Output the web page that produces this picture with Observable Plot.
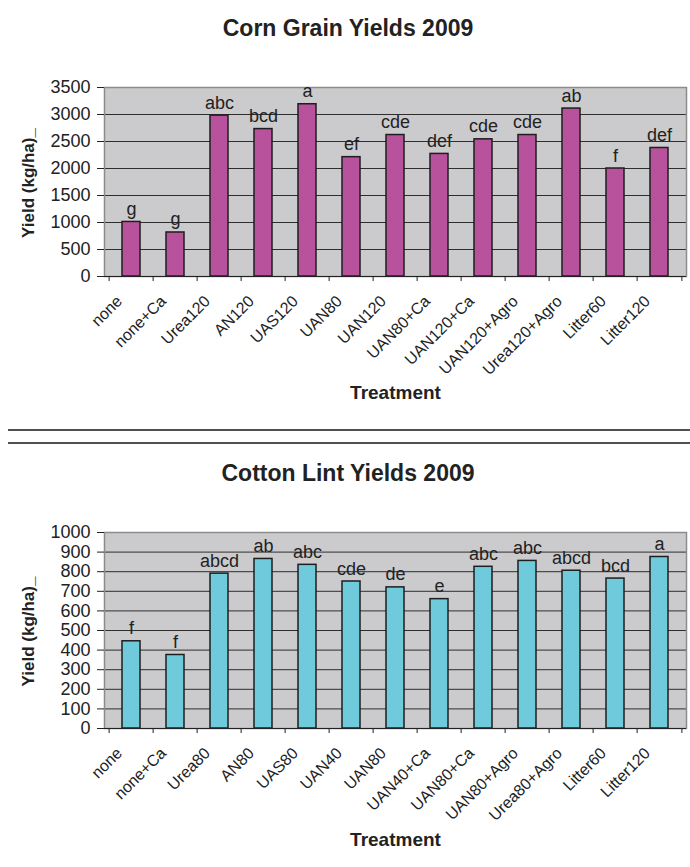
<!DOCTYPE html>
<html>
<head>
<meta charset="utf-8">
<script src="https://cdn.jsdelivr.net/npm/d3@7"></script>
<script src="https://cdn.jsdelivr.net/npm/@observablehq/plot@0.6"></script>
<style>
  html, body { margin: 0; padding: 0; background: #ffffff; }
  #page { position: relative; width: 690px; height: 867px; overflow: hidden;
          font-family: "Liberation Sans", Arial, sans-serif; color: #222; }
  .title { position: absolute; left: 3px; width: 690px; text-align: center;
           font-weight: bold; font-size: 23px; line-height: 23px; white-space: nowrap; }
  .rule { position: absolute; left: 8px; right: 0; background: #505050; }
  .chart { position: absolute; left: 0; }
</style>
</head>
<body>
<div id="page">
  <div class="title" style="top:17px">Corn Grain Yields 2009</div>
  <div class="chart" id="corn" style="top:60px"></div>
  <div class="rule" style="top:429px;height:2px"></div>
  <div class="rule" style="top:442px;height:1.5px"></div>
  <div class="title" style="top:462px">Cotton Lint Yields 2009</div>
  <div class="chart" id="cotton" style="top:500px"></div>
</div>
<script>
// Corn grain yields (kg/ha) by nitrogen treatment, with mean-separation letters
const cornTreatments = ["none", "none+Ca", "Urea120", "AN120", "UAS120", "UAN80", "UAN120",
  "UAN80+Ca", "UAN120+Ca", "UAN120+Agro", "Urea120+Agro", "Litter60", "Litter120"];
const cornYields = [1010, 815, 2980, 2730, 3190, 2210, 2620, 2270, 2540, 2620, 3110, 2000, 2380];
const cornLetters = ["g", "g", "abc", "bcd", "a", "ef", "cde", "def", "cde", "cde", "ab", "f", "def"];
const cornTicks = [0, 500, 1000, 1500, 2000, 2500, 3000, 3500];

// Cotton lint yields (kg/ha) by nitrogen treatment, with mean-separation letters
const cottonTreatments = ["none", "none+Ca", "Urea80", "AN80", "UAS80", "UAN40", "UAN80",
  "UAN40+Ca", "UAN80+Ca", "UAN80+Agro", "Urea80+Agro", "Litter60", "Litter120"];
const cottonYields = [445, 375, 790, 865, 835, 750, 720, 660, 825, 855, 805, 765, 875];
const cottonLetters = ["f", "f", "abcd", "ab", "abc", "cde", "de", "e", "abc", "abc", "abcd", "bcd", "a"];
const cottonTicks = [0, 100, 200, 300, 400, 500, 600, 700, 800, 900, 1000];

function yieldChart({treatments, yields, letters, ticks, fill, height, marginTop, marginBottom, treatmentDy}) {
  const rows = treatments.map((t, i) => ({treatment: t, yield: yields[i], letter: letters[i]}));
  const width = 690, marginLeft = 104, marginRight = 4;
  const step = (width - marginLeft - marginRight) / treatments.length;
  return Plot.plot({
    width, height, marginLeft, marginRight, marginTop, marginBottom,
    style: {fontFamily: "'Liberation Sans', Arial, sans-serif", fontSize: "15px", color: "#222", background: "transparent"},
    x: {type: "band", domain: treatments, paddingInner: 0.6, paddingOuter: 0.3, label: null},
    y: {domain: [0, d3.max(ticks)], label: null},
    marks: [
      Plot.frame({fill: "#cbcbcd", stroke: null}),
      Plot.gridY({ticks, stroke: "#2e2e2e", strokeOpacity: 1, strokeWidth: 1}),
      Plot.frame({stroke: "#8c8c8c", strokeWidth: 1.5}),
      Plot.barY(rows, {x: "treatment", y: "yield", fill, stroke: "#1e1e1e", strokeWidth: 1.5}),
      Plot.ruleY([0], {stroke: "#222", strokeWidth: 1.2}),
      Plot.axisY({ticks, tickFormat: d3.format("d"), tickSize: 7, tickPadding: 7, fontSize: 18, label: null}),
      // category boundary ticks below the x axis
      Plot.axisX({tickSize: 5, tickFormat: () => "", dx: -step / 2, label: null}),
      Plot.axisX({ticks: [treatments[treatments.length - 1]], tickSize: 5, tickFormat: () => "", dx: step / 2, label: null}),
      Plot.axisX({tickSize: 0, tickPadding: 0, tickRotate: -45, textAnchor: "end", lineAnchor: "middle",
                  dx: -12, dy: 22, fontSize: 16, label: null}),
      Plot.text(rows, {x: "treatment", y: "yield", text: "letter", lineAnchor: "bottom", dy: -7, fontSize: 18, fill: "#222"}),
      Plot.text(["Yield (kg/ha)_"], {frameAnchor: "left", rotate: -90, textAnchor: "middle", lineAnchor: "middle",
                                     dx: -76, dy: 1, fontWeight: "bold", fontSize: 17, fill: "#222"}),
      Plot.text(["Treatment"], {frameAnchor: "bottom", textAnchor: "middle", lineAnchor: "middle",
                                dy: treatmentDy, fontWeight: "bold", fontSize: 19, fill: "#222"})
    ]
  });
}

document.getElementById("corn").append(yieldChart({
  treatments: cornTreatments, yields: cornYields, letters: cornLetters, ticks: cornTicks,
  fill: "#b9529d", height: 360, marginTop: 27, marginBottom: 144, treatmentDy: 116
}));

document.getElementById("cotton").append(yieldChart({
  treatments: cottonTreatments, yields: cottonYields, letters: cottonLetters, ticks: cottonTicks,
  fill: "#6fcbdc", height: 367, marginTop: 32, marginBottom: 139, treatmentDy: 111
}));
</script>
</body>
</html>
